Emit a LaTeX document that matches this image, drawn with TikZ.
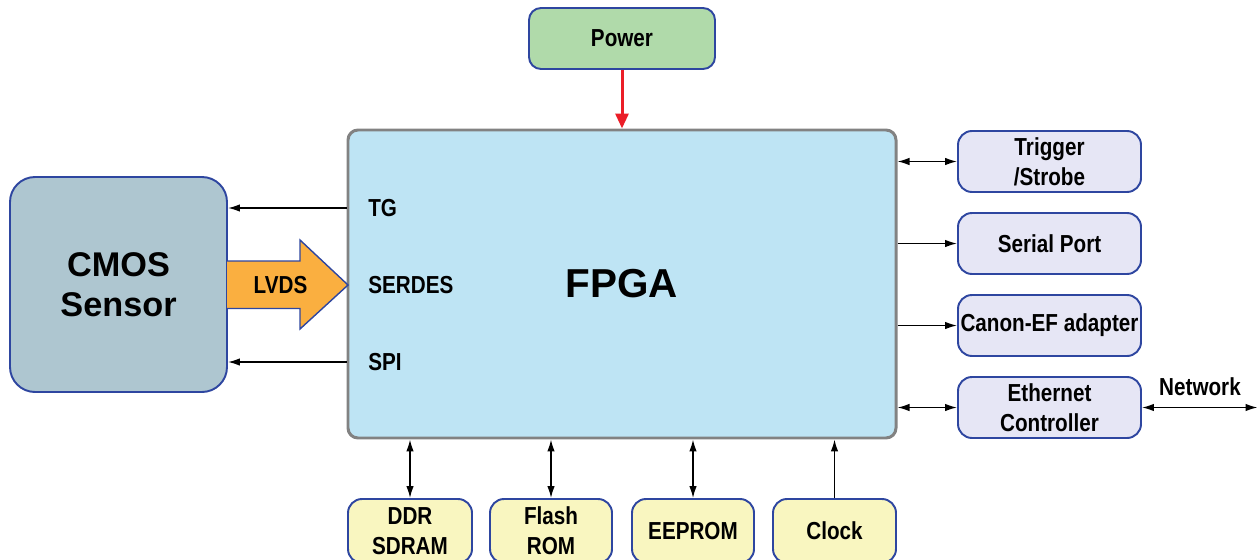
\documentclass[tikz,border=0pt]{standalone}
\usepackage{fontspec}
\setmainfont{Liberation Sans}
\newfontfamily\narrowfont{Liberation Sans}[FakeStretch=0.84]
\usetikzlibrary{arrows.meta}

\definecolor{boxblue}{RGB}{46,70,160}
\definecolor{cmosfill}{RGB}{174,198,208}
\definecolor{fpgafill}{RGB}{190,228,244}
\definecolor{fpgaline}{RGB}{130,130,130}
\definecolor{pwrfill}{RGB}{176,218,170}
\definecolor{iofill}{RGB}{230,230,245}
\definecolor{memfill}{RGB}{249,246,192}
\definecolor{lvdsfill}{RGB}{250,175,64}
\definecolor{pwrred}{RGB}{235,30,40}

\tikzset{
  >={Latex[length=2.4mm,width=1.5mm]},
  lbl/.style={font=\narrowfont\fontsize{14}{17}\selectfont\bfseries, inner sep=0pt},
  blk/.style={lbl, draw=boxblue, line width=1.1pt, rounded corners=0.28cm, align=center},
  iobox/.style={blk, fill=iofill, minimum width=3.66cm, minimum height=1.22cm},
  membox/.style={blk, fill=memfill, minimum height=1.28cm},
  wire/.style={line width=0.8pt}
}

\begin{document}
\begin{tikzpicture}
  \clip (0,0) rectangle (25.2,-11.2);
  % main blocks
  \node[draw=fpgaline, line width=1.7pt, fill=fpgafill, rounded corners=0.2cm,
        minimum width=10.96cm, minimum height=6.16cm,
        font=\fontsize{23}{27}\selectfont\bfseries] (fpga) at (12.44,-5.68) {FPGA};
  \node[blk, fill=cmosfill, rounded corners=0.5cm, minimum width=4.34cm, minimum height=4.30cm,
        font=\fontsize{19.5}{23}\selectfont\bfseries] (cmos) at (2.37,-5.69) {CMOS\\Sensor};
  \node[blk, fill=pwrfill, rounded corners=0.24cm, minimum width=3.72cm, minimum height=1.22cm] (power) at (12.44,-0.77) {Power};
  % right side
  \node[iobox] (trig) at (20.99,-3.23) {Trigger\\/Strobe};
  \node[iobox] (serial) at (20.99,-4.87) {Serial Port};
  \node[iobox] (canon) at (20.99,-6.51) {Canon-EF adapter};
  \node[iobox] (eth) at (20.99,-8.15) {Ethernet\\Controller};
  % bottom
  \node[membox, minimum width=2.48cm] (ddr) at (8.20,-10.62) {DDR\\SDRAM};
  \node[membox, minimum width=2.44cm] (flash) at (11.02,-10.62) {Flash\\ROM};
  \node[membox, minimum width=2.44cm] (eeprom) at (13.86,-10.62) {EEPROM};
  \node[membox, minimum width=2.46cm] (clock) at (16.69,-10.62) {Clock};
  % labels in the fpga
  \node[lbl, anchor=west] (tg) at (7.36,-4.16) {TG};
  \node[lbl, anchor=west] (serdes) at (7.36,-5.70) {SERDES};
  \node[lbl, anchor=west] (spi) at (7.36,-7.24) {SPI};
  % sensor link
  \filldraw[fill=lvdsfill, draw=boxblue, line width=0.8pt]
    (4.54,-5.22) -- (6.0,-5.22) -- (6.0,-4.80) -- (6.96,-5.70)
    -- (6.0,-6.58) -- (6.0,-6.17) -- (4.54,-6.17);
  \node[lbl] (lvds) at (5.61,-5.70) {LVDS};
  \draw[wire,->] (tg.west -| fpga.west) -- (tg.west -| cmos.east);
  \draw[wire,->] (spi.west -| fpga.west) -- (spi.west -| cmos.east);
  % power
  \draw[line width=1.7pt, pwrred, -{Triangle[length=3mm,width=2.6mm]}] (power) -- (fpga.north);
  % io links
  \draw[wire,<->] (fpga.east |- trig) -- (trig);
  \draw[wire,->] (fpga.east |- serial) -- (serial);
  \draw[wire,->] (fpga.east |- canon) -- (canon);
  \draw[wire,<->] (fpga.east |- eth) -- (eth);
  \coordinate (net) at (25.15,-8.15);
  \draw[wire,<->] (eth) -- (net);
  \node[lbl] (netlbl) at (24.0,-7.74) {Network};
  % memory links
  \draw[wire,<->] (ddr.north |- fpga.south) -- (ddr);
  \draw[wire,<->] (flash.north |- fpga.south) -- (flash);
  \draw[wire,<->] (eeprom.north |- fpga.south) -- (eeprom);
  \draw[wire,->] (clock) -- (clock.north |- fpga.south);
\end{tikzpicture}
\end{document}
